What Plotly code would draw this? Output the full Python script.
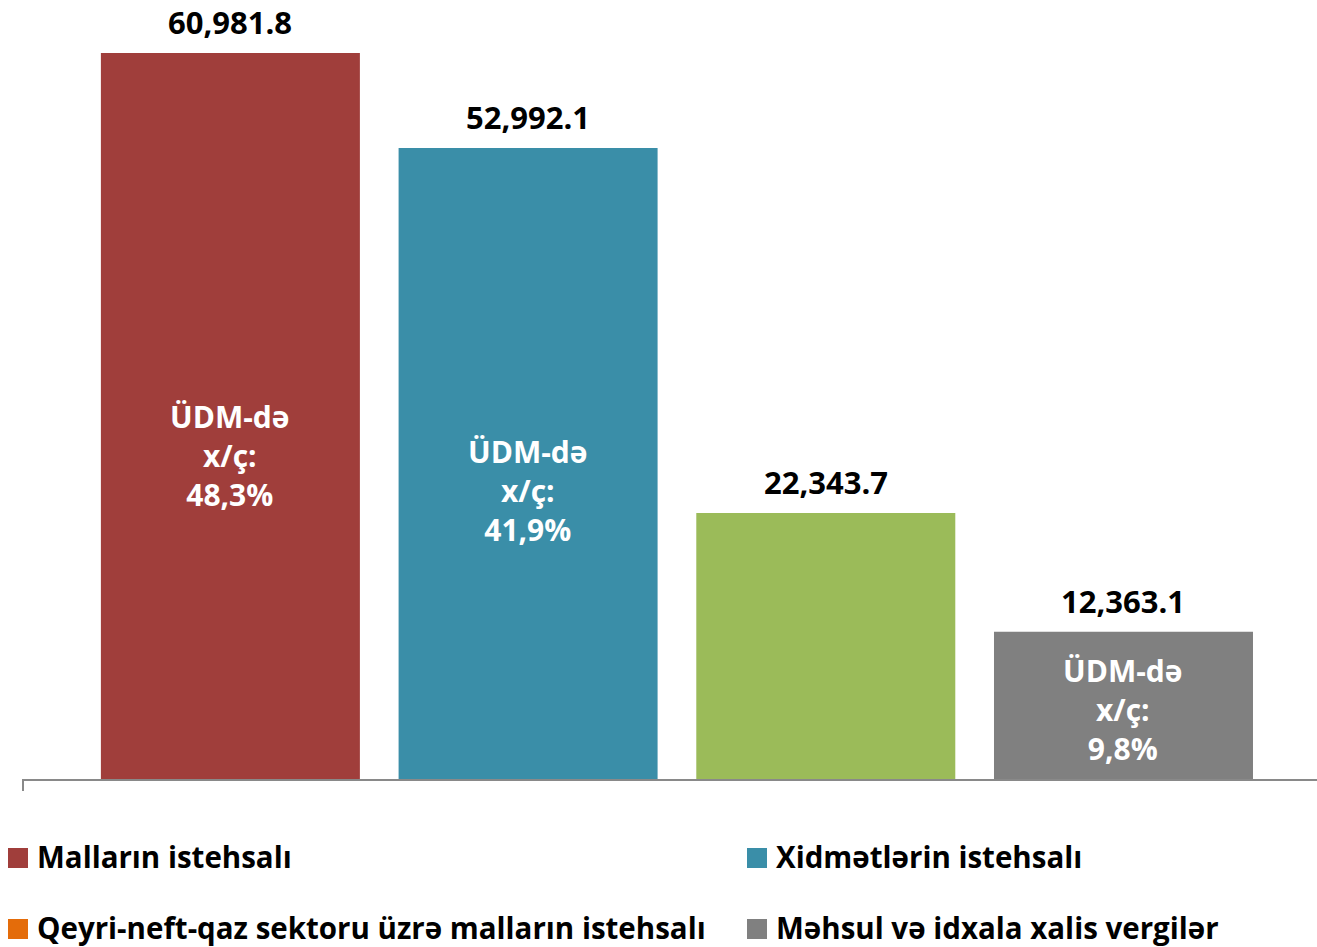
import plotly.graph_objects as go

categories = ["Malların istehsalı", "Xidmətlərin istehsalı",
              "Qeyri-neft-qaz sektoru üzrə malların istehsalı",
              "Məhsul və idxala xalis vergilər"]
values = [60981.8, 52992.1, 22343.7, 12363.1]
value_labels = ["60,981.8", "52,992.1", "22,343.7", "12,363.1"]
share_labels = ["ÜDM-də<br>x/ç:<br>48,3%", "ÜDM-də<br>x/ç:<br>41,9%", "", "ÜDM-də<br>x/ç:<br>9,8%"]
bar_colors = ["#A03E3B", "#3A8EA8", "#9BBB59", "#808080"]
legend_labels = ["Malların istehsalı", "Xidmətlərin istehsalı",
                 "Qeyri-neft-qaz sektoru üzrə malların istehsalı",
                 "Məhsul və idxala xalis vergilər"]
legend_colors = ["#A03E3B", "#3A8EA8", "#E46C0A", "#808080"]

W, H = 1317, 947
FONT = "Open Sans"

x_idx = list(range(len(categories)))

fig = go.Figure()
fig.add_trace(go.Bar(
    x=x_idx, y=values, marker=dict(color=bar_colors, line=dict(width=0)),
    showlegend=False, hoverinfo="skip", width=0.87,
))

annotations = []
for i, (v, t) in enumerate(zip(values, value_labels)):
    annotations.append(dict(x=i, y=v, xref="x", yref="y", text=f"<b>{t}</b>",
                            showarrow=False, yanchor="middle", yshift=31,
                            font=dict(family=FONT, size=31, color="black")))
share_pos = [0.445, 0.458, 0.5, 0.469]
for i, (v, t) in enumerate(zip(values, share_labels)):
    if t:
        annotations.append(dict(x=i, y=v * share_pos[i], xref="x", yref="y",
                                text=f"<b>{t}</b>", showarrow=False,
                                yanchor="middle",
                                font=dict(family=FONT, size=30, color="white")))

shapes = []
shapes.append(dict(type="line", xref="paper", yref="paper",
                   x0=23 / W, x1=23 / W, y0=1 - 779 / H, y1=1 - 791 / H,
                   line=dict(color="#898989", width=2)))

leg_pos = [(8, 858), (747, 858), (8, 929), (747, 929)]
for (lx, ly), lab, col in zip(leg_pos, legend_labels, legend_colors):
    shapes.append(dict(type="rect", xref="paper", yref="paper",
                       x0=lx / W, x1=(lx + 20) / W,
                       y0=1 - (ly - 10) / H, y1=1 - (ly + 10) / H,
                       fillcolor=col, line=dict(width=0)))
    annotations.append(dict(x=(lx + 27) / W, y=1 - (ly - 2) / H, xref="paper", yref="paper",
                            text=f"<b>{lab}</b>", showarrow=False,
                            xanchor="left", yanchor="middle",
                            font=dict(family=FONT, size=29.5, color="black")))

ymax = 779 / (726 / 60981.8)
fig.update_layout(
    width=W, height=H,
    margin=dict(l=0, r=0, t=0, b=0),
    paper_bgcolor="white", plot_bgcolor="white",
    xaxis=dict(domain=[22 / W, 1], range=[-0.7, 3.65], showgrid=False,
               zeroline=False, showticklabels=False, ticks="",
               showline=True, linecolor="#898989", linewidth=2),
    yaxis=dict(domain=[1 - 779 / H, 1], range=[0, ymax], showgrid=False,
               zeroline=False, showticklabels=False, showline=False),
    annotations=annotations, shapes=shapes,
    font=dict(family=FONT),
)

fig.write_html("out.html", config={"displayModeBar": False},
               post_script="document.body.style.margin='0';")
